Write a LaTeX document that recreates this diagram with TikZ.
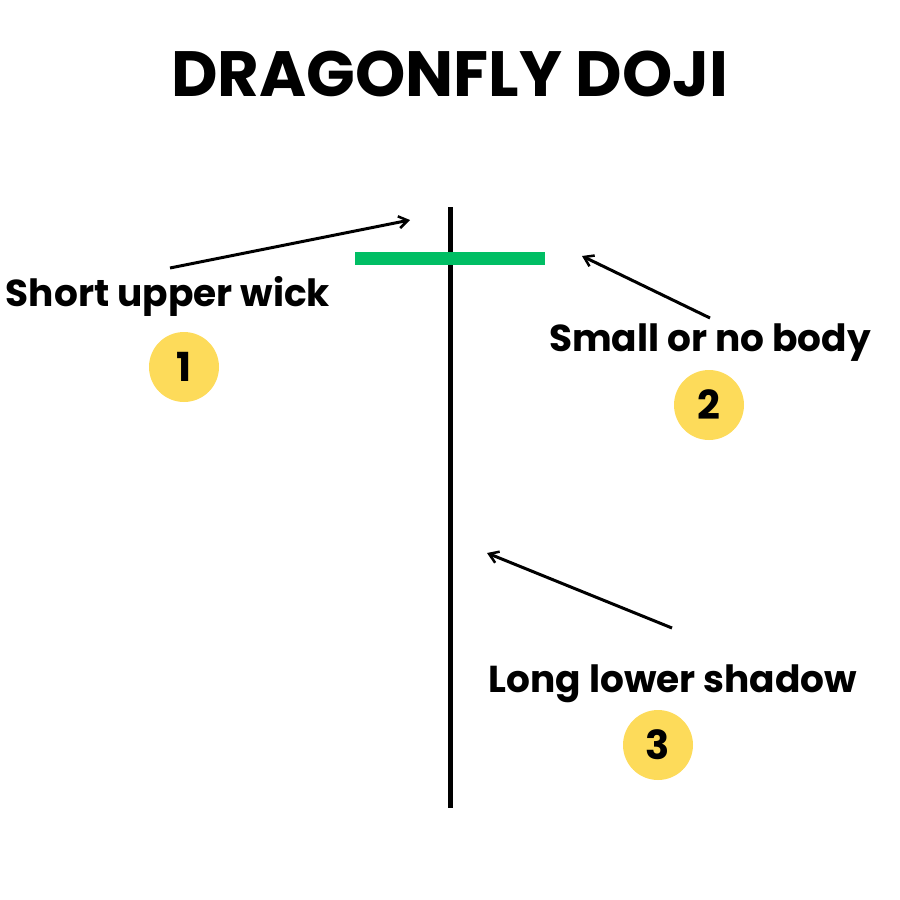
\documentclass[tikz,border=0pt]{standalone}
\usepackage{fontspec}
\setmainfont{Poppins}
\definecolor{bargreen}{RGB}{0,190,100}
\definecolor{badge}{RGB}{253,219,90}
\usetikzlibrary{arrows.meta}
\begin{document}
\begin{tikzpicture}[x=1pt,y=-1pt,
  lbl/.style={font=\bfseries\fontsize{37.5}{40}\selectfont,inner sep=0},
  num/.style={circle,fill=badge,minimum size=70pt,inner sep=0,font=\bfseries\fontsize{40}{42}\selectfont},
  arr/.style={-{Straight Barb[length=9pt,width=12pt,line width=2.5pt]},line width=3pt}]
\useasboundingbox (0,0) rectangle (900,900);
\node[font=\bfseries\fontsize{64}{68}\selectfont,inner sep=0] (title) at (450,74) {DRAGONFLY DOJI};
\coordinate (top) at (450,207); \coordinate (bot) at (450,808);
\draw[line width=5pt] (top) -- (bot);
\coordinate (bl) at (355,258); \coordinate (br) at (545,258);
\draw[bargreen,line width=13pt] (bl) -- (br);
\node[lbl] (l1) at (168,296) {Short upper wick};
\node[num] (n1) at (184,367) {1};
\node[lbl] (l2) at (710,343) {Small or no body};
\node[num] (n2) at (709,405) {2};
\node[lbl] (l3) at (673,684) {Long lower shadow};
\node[num] (n3) at (658,745) {3};
\coordinate (a1s) at (170,268); \coordinate (a1e) at (410,220);
\coordinate (a2s) at (710,318); \coordinate (a2e) at (582,256);
\coordinate (a3s) at (672,628); \coordinate (a3e) at (487,553);
\draw[arr] (a1s) -- (a1e);
\draw[arr] (a2s) -- (a2e);
\draw[arr] (a3s) -- (a3e);
\end{tikzpicture}
\end{document}
